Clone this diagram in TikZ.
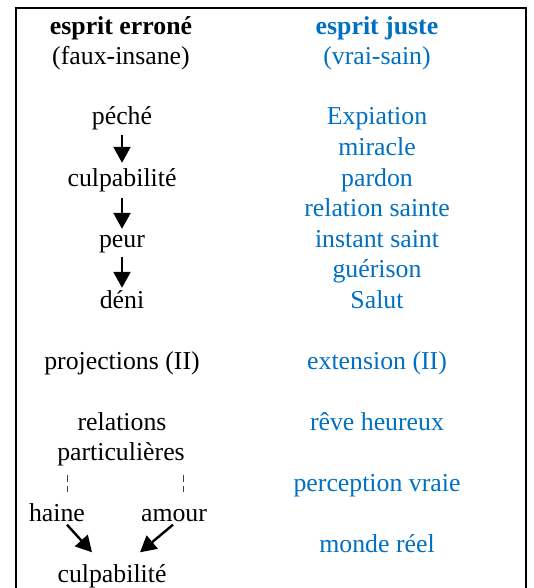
\documentclass[tikz,border=0pt]{standalone}
\usepackage{fontspec}
\setmainfont{Liberation Serif}
\usetikzlibrary{arrows.meta}
\definecolor{jblue}{RGB}{0,112,192}
\tikzset{
  lbl/.style={inner sep=0pt, anchor=base, text height=18pt, text depth=6pt,
              font=\fontsize{25.8pt}{30.5pt}\selectfont},
  rlbl/.style={lbl, text=jblue},
  harrow/.style={line width=2.4pt, -{Triangle[length=16pt,width=17pt]}},
  dashl/.style={line width=1pt, draw=black!75, dash pattern=on 7pt off 4pt}
}
\begin{document}
\begin{tikzpicture}[x=1pt,y=-1pt]
\useasboundingbox (0,0) rectangle (533,588);
% frame
\draw[line width=2pt] (16,600) -- (16,8) -- (526,8) -- (526,600);
% left column
\node[lbl] (h1) at (121,34.5) {\bfseries esprit erroné};
\node[lbl] (h2) at (121,65) {(faux-insane)};
\node[lbl] (peche) at (122,125) {péché};
\node[lbl] (culp) at (122,186) {culpabilité};
\node[lbl] (peur) at (122,247) {peur};
\node[lbl] (deni) at (122,308) {déni};
\node[lbl] (proj) at (122,369) {projections (II)};
\node[lbl] (rel) at (122,430) {relations};
\node[lbl] (part) at (121,460.5) {particulières};
\node[lbl] (haine) at (57,521.5) {haine};
\node[lbl] (amour) at (174,521.5) {amour};
\node[lbl] (culp2) at (112,582.5) {culpabilité};
% right column
\node[rlbl] (rh1) at (377,34.5) {\bfseries esprit juste};
\node[rlbl] (rh2) at (377,65) {(vrai-sain)};
\node[rlbl] (r1) at (377,125) {Expiation};
\node[rlbl] (r2) at (377,155.5) {miracle};
\node[rlbl] (r3) at (377,186) {pardon};
\node[rlbl] (r4) at (377,216.5) {relation sainte};
\node[rlbl] (r5) at (377,247) {instant saint};
\node[rlbl] (r6) at (377,277.5) {guérison};
\node[rlbl] (r7) at (377,308) {Salut};
\node[rlbl] (r8) at (377,369) {extension (II)};
\node[rlbl] (r9) at (377,430) {rêve heureux};
\node[rlbl] (r10) at (377,491) {perception vraie};
\node[rlbl] (r11) at (377,552) {monde réel};
% arrows
\draw[harrow, shorten <=4pt, shorten >=5pt] (peche.south) -- (culp.north);
\draw[harrow, shorten <=6pt, shorten >=0pt] (culp.south) -- (peur.north);
\draw[harrow, shorten <=4pt, shorten >=2pt] (peur.south) -- (deni.north);
\draw[harrow] ([xshift=10pt,yshift=3pt]haine.south) -- ([xshift=-20pt,yshift=12pt]culp2.north);
\draw[harrow] ([xshift=-1pt,yshift=3pt]amour.south) -- ([xshift=28pt,yshift=12pt]culp2.north);
% dashed links
\draw[dashl, shorten <=8pt, shorten >=11pt] ([xshift=-54pt]part.south) -- ([xshift=10pt]haine.north);
\draw[dashl, shorten <=8pt, shorten >=11pt] ([xshift=62pt]part.south) -- ([xshift=9pt]amour.north);
\end{tikzpicture}
\end{document}
